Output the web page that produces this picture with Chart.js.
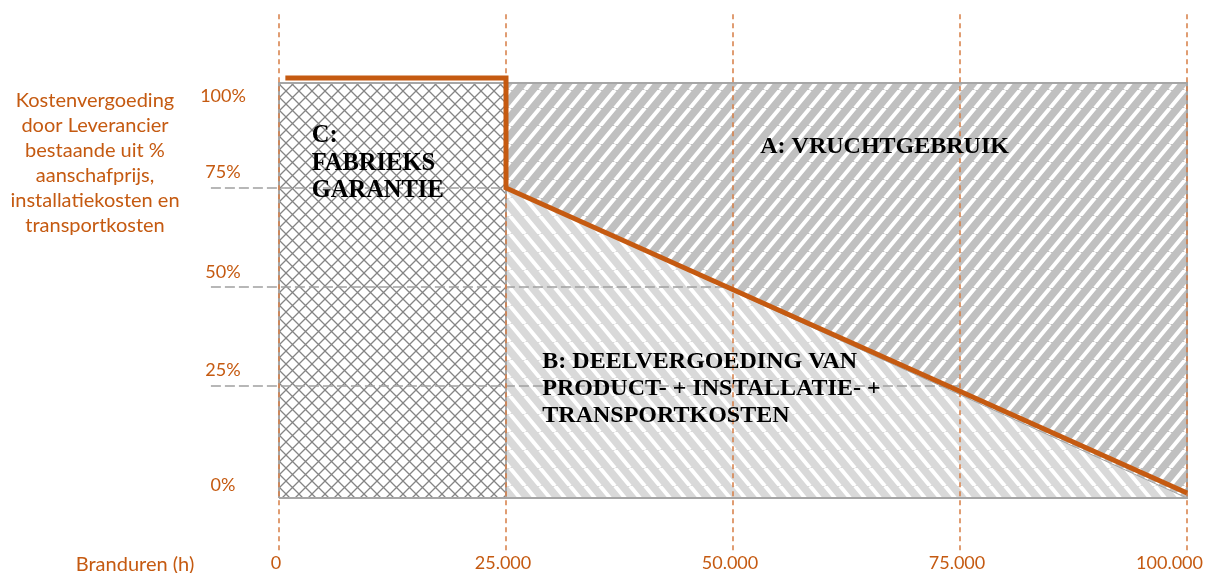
<!DOCTYPE html>
<html lang="nl">
<head>
<meta charset="utf-8">
<title>Kostenvergoeding door Leverancier</title>
<script src="https://cdn.jsdelivr.net/npm/chart.js@4.4.1/dist/chart.umd.min.js"></script>
<style>
  html, body { margin: 0; padding: 0; background: #fff; }
  #wrap { width: 1208px; height: 573px; position: relative; }
</style>
</head>
<body>
<div id="wrap"><canvas id="chart"></canvas></div>
<script>
// === data ===
const xTicks = [0, 25000, 50000, 75000, 100000];
const xTickLabels = ["0", "25.000", "50.000", "75.000", "100.000"];
const yTicks = [0, 25, 50, 75, 100];
const yTickLabels = ["0%", "25%", "50%", "75%", "100%"];

// vergoedingslijn (oranje)
const lineX = [700, 25000, 25000, 100000];
const lineY = [102.8, 102.8, 75, -2];

// grijze vlakken
const boxTop = 101.5;
const boxBottom = -3.3;
const garantieEnd = 25000;
const deelStart = 75;

// grijze hulplijnen: niveau en waar ze eindigen
const refLevels = [75, 50, 25];
const refEnds = [25000, 50000, 75000];
const refStart = -7500;

const yTitle = ["Kostenvergoeding", "door Leverancier", "bestaande uit %", "aanschafprijs,", "installatiekosten en", "transportkosten"];
const xTitle = "Branduren (h)";
const labelA = ["A: VRUCHTGEBRUIK"];
const labelB = ["B: DEELVERGOEDING VAN", "PRODUCT- + INSTALLATIE- +", "TRANSPORTKOSTEN"];
const labelC = ["C:", "FABRIEKS", "GARANTIE"];

// === kleuren / stijl ===
const ORANGE = "#C55A11";
const GRAY_LINE = "#a6a6a6";
const TICK_FONT = "18px Lato, 'Open Sans', sans-serif";
const TITLE_FONT = "20px Lato, 'Open Sans', sans-serif";
const LABEL_FONT = "bold 24px 'Liberation Serif', 'Times New Roman', serif";
const LABEL_FONT_C = "bold 24.5px 'Liberation Serif', 'Times New Roman', serif";

// === patronen ===
function crossPattern() {
    const s = 13;
    const c = document.createElement("canvas");
    c.width = s; c.height = s;
    const g = c.getContext("2d");
    g.fillStyle = "#fff";
    g.fillRect(0, 0, s, s);
    g.strokeStyle = "#858585";
    g.lineWidth = 1.3;
    g.beginPath();
    g.moveTo(0, 0); g.lineTo(s, s);
    g.moveTo(s, 0); g.lineTo(0, s);
    g.stroke();
    return g.createPattern(c, "repeat");
}

function stripePattern(bg, dir) {
    const w = 15, h = 18;
    const c = document.createElement("canvas");
    c.width = w; c.height = h;
    const g = c.getContext("2d");
    g.fillStyle = bg;
    g.fillRect(0, 0, w, h);
    g.strokeStyle = "#fff";
    g.lineWidth = 4;
    g.beginPath();
    [-w, 0, w].forEach(o => {
        if (dir === "/") {
            g.moveTo(o, h); g.lineTo(o + w, 0);
        } else {
            g.moveTo(o, 0); g.lineTo(o + w, h);
        }
    });
    g.stroke();
    return g.createPattern(c, "repeat");
}

// === datasets opbouwen ===
const orangeLine = lineX.map((x, i) => ({ x, y: lineY[i] }));

const vertDash = [];
xTicks.forEach(x => {
    vertDash.push({ x, y: 118.9 }, { x, y: -17.2 }, { x, y: null });
});

const horDash = [];
refLevels.forEach((lvl, i) => {
    horDash.push({ x: refStart, y: lvl }, { x: refEnds[i], y: lvl }, { x: refEnds[i], y: null });
});

const boxOutline = [
    { x: 0, y: boxBottom }, { x: 0, y: boxTop }, { x: 100000, y: boxTop },
    { x: 100000, y: boxBottom }, { x: 0, y: boxBottom }, { x: 0, y: null },
    { x: garantieEnd, y: boxTop }, { x: garantieEnd, y: boxBottom },
];

const base = { pointRadius: 0, pointHoverRadius: 0, tension: 0, spanGaps: false };

// === teksten tekenen ===
const textPlugin = {
    id: "texts",
    afterDatasetsDraw(chart) {
        const ctx = chart.ctx;
        const xs = chart.scales.x, ys = chart.scales.y;
        ctx.save();

        // as-teksten
        ctx.fillStyle = ORANGE;
        ctx.font = TICK_FONT;
        ctx.textBaseline = "middle";
        ctx.textAlign = "center";
        const yLabelShift = [0, -16, -15, -16, 7];
        yTicks.forEach((v, i) => {
            ctx.fillText(yTickLabels[i], 223, ys.getPixelForValue(v) + yLabelShift[i]);
        });
        xTicks.forEach((v, i) => {
            const px = xs.getPixelForValue(v);
            if (i === xTicks.length - 1) {
                ctx.textAlign = "right";
                ctx.fillText(xTickLabels[i], px + 16, 563);
                ctx.textAlign = "center";
            } else {
                ctx.fillText(xTickLabels[i], px - 3, 563);
            }
        });
        ctx.font = TITLE_FONT;
        yTitle.forEach((t, i) => ctx.fillText(t, 95, 101 + i * 25));
        ctx.fillText(xTitle, 135, 565);

        // vlak-labels
        ctx.fillStyle = "#000";
        ctx.textAlign = "left";
        ctx.textBaseline = "alphabetic";
        ctx.font = LABEL_FONT_C;
        labelC.forEach((t, i) => ctx.fillText(t, xs.getPixelForValue(3600), 142 + i * 27.5));
        ctx.font = LABEL_FONT;
        labelA.forEach((t, i) => ctx.fillText(t, xs.getPixelForValue(53000), 153 + i * 27));
        labelB.forEach((t, i) => ctx.fillText(t, xs.getPixelForValue(29000), 368 + i * 27));

        ctx.restore();
    }
};

// === grafiek ===
const ctx = document.getElementById("chart").getContext("2d");
const chart = new Chart(ctx, {
    type: "line",
    data: {
        datasets: [
            {
                ...base, label: "vergoeding", data: orangeLine,
                borderColor: ORANGE, borderWidth: 5, fill: false, order: 0,
            },
            {
                ...base, label: "verticaal", data: vertDash,
                borderColor: "rgba(214, 125, 70, 0.95)", borderWidth: 1.6,
                borderDash: [5, 4], fill: false, order: 1,
            },
            {
                ...base, label: "hulplijnen", data: horDash,
                borderColor: "#a0a0a0", borderWidth: 1.5,
                borderDash: [10, 4], fill: false, order: 2,
            },
            {
                ...base, label: "kader", data: boxOutline,
                borderColor: GRAY_LINE, borderWidth: 2, fill: false, order: 3,
            },
            {
                ...base, label: "B", data: [{ x: garantieEnd, y: deelStart }, { x: 100000, y: boxBottom }],
                borderColor: GRAY_LINE, borderWidth: 1,
                backgroundColor: stripePattern("#d9d9d9", "\\"), fill: { value: boxBottom }, order: 4,
            },
            {
                ...base, label: "A", data: [{ x: garantieEnd, y: boxTop }, { x: 100000, y: boxTop }],
                borderWidth: 0, borderColor: "rgba(0,0,0,0)",
                backgroundColor: stripePattern("#c0c0c0", "/"), fill: { value: boxBottom }, order: 5,
            },
            {
                ...base, label: "C", data: [{ x: 0, y: boxTop }, { x: garantieEnd, y: boxTop }],
                borderWidth: 0, borderColor: "rgba(0,0,0,0)",
                backgroundColor: crossPattern(), fill: { value: boxBottom }, order: 6,
            },
        ]
    },
    options: {
        responsive: true,
        maintainAspectRatio: false,
        animation: false,
        events: [],
        layout: { padding: 0 },
        scales: {
            x: { type: "linear", min: -30727, max: 102313, display: false },
            y: { type: "linear", min: -22.22, max: 122.47, display: false },
        },
        plugins: {
            legend: { display: false },
            tooltip: { enabled: false },
        }
    },
    plugins: [textPlugin]
});
</script>
</body>
</html>
